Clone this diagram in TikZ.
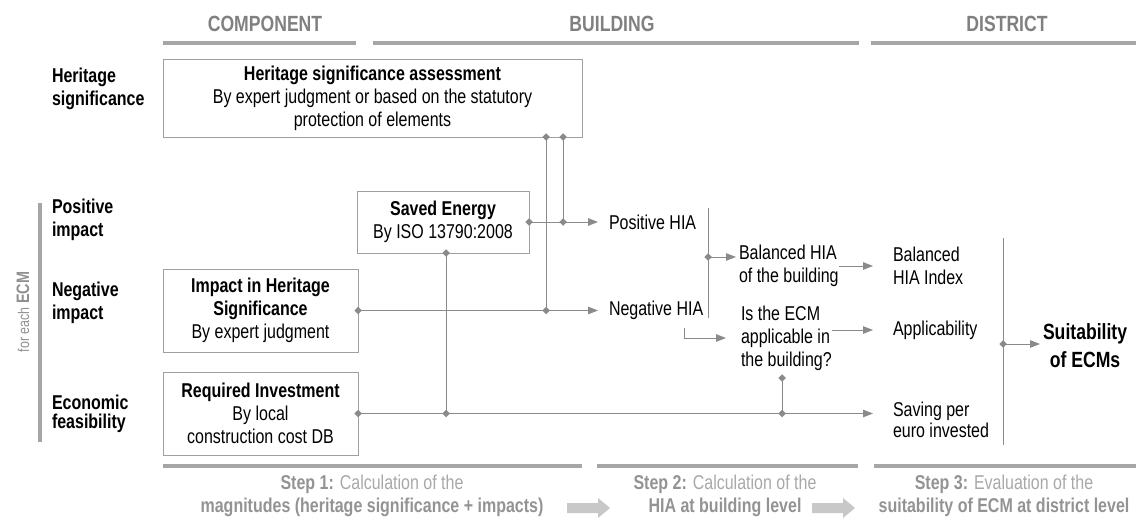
\documentclass[tikz,border=0pt]{standalone}
\usepackage{fontspec}
\setmainfont{Liberation Sans}[FakeStretch=0.8]
\usetikzlibrary{arrows.meta,shapes.geometric,calc}
\definecolor{linegray}{HTML}{8A8A8A}
\definecolor{boxgray}{HTML}{A0A0A0}
\definecolor{bargray}{HTML}{A6A6A6}
\definecolor{headgray}{HTML}{808080}
\definecolor{stepgray}{HTML}{A8A8A8}
\definecolor{stepbold}{HTML}{939393}
\definecolor{blockgray}{HTML}{C8C8C8}
\definecolor{ecmgray}{HTML}{909090}
\begin{document}
\begin{tikzpicture}[x=1pt,y=-1pt,
  every node/.style={inner sep=0pt, outer sep=0pt},
  txt/.style={font=\fontsize{20}{23}\selectfont, align=left, anchor=west},
  lbl/.style={font=\fontsize{20}{23}\selectfont\bfseries, align=left, anchor=west},
  box/.style={draw=boxgray, line width=1pt, font=\fontsize{20}{23}\selectfont, align=center},
  head/.style={font=\fontsize{22}{24}\selectfont\bfseries, text=headgray},
  bar/.style={draw=bargray, line width=4pt},
  conn/.style={draw=linegray, line width=1pt},
  arr/.style={conn, -{Triangle[length=10pt,width=7.5pt]}},
  dia/.style={diamond, fill=linegray, minimum size=7.5pt, inner sep=0pt},
  stepfont/.style={font=\fontsize{20}{23}\selectfont, text=stepgray, align=center},
]
\useasboundingbox (0,0) rectangle (1136,519);

% headers
\node[head] (hComp) at (265,24) {COMPONENT};
\node[head] (hBld) at (612,24) {BUILDING};
\node[head] (hDist) at (1007,24) {DISTRICT};
\draw[bar] (163,43) -- (356,43);
\draw[bar] (373,43) -- (859,43);
\draw[bar] (871,43) -- (1136,43);

% left labels
\node[lbl] (lHer) at (52,88.5) {Heritage\\significance};
\node[lbl] (lPos) at (52,219.5) {Positive\\impact};
\node[lbl] (lNeg) at (52,303) {Negative\\impact};
\node[lbl, font=\fontsize{20}{19}\selectfont\bfseries] (lEco) at (52,414) {Economic\\feasibility};
\draw[draw=bargray, line width=4pt] (40,203) -- (40,442);
\node[rotate=90, text=ecmgray] (ecm) at (23,312) {\fontsize{15.5}{16}\selectfont for each \fontsize{18}{16}\selectfont\bfseries ECM};

% boxes
\node[box, minimum width=419pt, minimum height=77pt] (hsa) at (372.5,98.5)
  {\textbf{Heritage significance assessment}\\By expert judgment or based on the statutory\\protection of elements};
\node[box, minimum width=172pt, minimum height=62pt] (se) at (443,222)
  {\textbf{Saved Energy}\\By ISO 13790:2008};
\node[box, minimum width=195pt, minimum height=83pt] (ihs) at (260.5,310.5)
  {\textbf{Impact in Heritage}\\\textbf{Significance}\\By expert judgment};
\node[box, minimum width=195pt, minimum height=83pt] (ri) at (260.5,413.5)
  {\textbf{Required Investment}\\By local\\construction cost DB};

% middle / right texts
\node[txt] (posHIA) at (609,222) {Positive HIA};
\node[txt] (negHIA) at (609,310) {Negative HIA};
\node[txt] (balBld) at (739,266) {Balanced HIA\\of the building};
\node[txt] (ecmq) at (741,338) {Is the ECM\\applicable in\\the building?};
\node[txt] (balIdx) at (893,266) {Balanced\\HIA Index};
\node[txt] (appl) at (893,330) {Applicability};
\node[txt, font=\fontsize{20}{21}\selectfont] (saving) at (893,420) {Saving per\\euro invested};
\node[txt, font=\fontsize{22}{28}\selectfont\bfseries, align=center] (suit) at (1043,346) {Suitability\\of ECMs};

% coordinates
\coordinate (cH1) at (546,137);
\coordinate (cH2) at (563,137);
\coordinate (cNeg) at (546,310.5);
\coordinate (cPos) at (563,222);
\coordinate (cSEb) at (446,253);
\coordinate (cInv) at (446,413.5);
\coordinate (cQ) at (782,378);
\coordinate (cQ2) at (782,413.5);
\coordinate (brT) at (708,208);
\coordinate (brB) at (708,318);
\coordinate (cBr) at (708,257);
\coordinate (elb) at (684,328);
\coordinate (sT) at (1003,238);
\coordinate (sB) at (1003,445);
\coordinate (cS) at (1003,344);

% connectors
\draw[conn] (cH1) -- (cNeg);
\draw[conn] (cH2) -- (cPos);
\draw[arr] (se.east) -- ($(posHIA.west)+(-11,0)$);
\draw[arr] (ihs.east) -- ($(ihs.east -| negHIA.west)+(-11,0)$);
\draw[conn] (cSEb) -- (cInv);
\draw[arr] (ri.east) -- ($(ri.east -| saving.west)+(-20,0)$);
\draw[conn] (cQ) -- (cQ2);
\draw[conn] (brT) -- (brB);
\draw[arr] (cBr) -- ($(cBr -| balBld.west)+(-3,0)$);
\draw[arr] (elb) |- ($(ecmq.west)+(-15,0)$);
\draw[arr] (balBld.east) -- ($(balIdx.west)+(-20,0)$);
\draw[arr] (ecmq.east |- appl.west) -- ($(appl.west)+(-20,0)$);
\draw[conn] (sT) -- (sB);
\draw[arr] (cS) -- ($(cS -| suit.west)+(-3,0)$);

% junction diamonds
\foreach \p in {cH1,cH2,cNeg,cPos,se.east,cSEb,cInv,ihs.east,ri.east,cQ,cQ2,cBr,cS}
  \node[dia] at (\p) {};

% bottom bars and steps
\draw[bar] (163,466) -- (582,466);
\draw[bar] (597,466) -- (858,466);
\draw[bar] (874,466) -- (1136,466);
\node[stepfont] (st1) at (372,495.5) {\textcolor{stepbold}{\textbf{Step 1:}} Calculation of the\\\textcolor{stepbold}{\textbf{magnitudes (heritage significance + impacts)}}};
\node[stepfont] (st2) at (725,495.5) {\textcolor{stepbold}{\textbf{Step 2:}} Calculation of the\\\textcolor{stepbold}{\textbf{HIA at building level}}};
\node[stepfont] (st3) at (1004,495.5) {\textcolor{stepbold}{\textbf{Step 3:}} Evaluation of the\\\textcolor{stepbold}{\textbf{suitability of ECM at district level}}};
\fill[blockgray] (567,503) -- (598,503) -- (598,498) -- (610,508) -- (598,518) -- (598,513) -- (567,513) -- cycle;
\fill[blockgray] (812,503) -- (843,503) -- (843,498) -- (855,508) -- (843,518) -- (843,513) -- (812,513) -- cycle;
\end{tikzpicture}
\end{document}
